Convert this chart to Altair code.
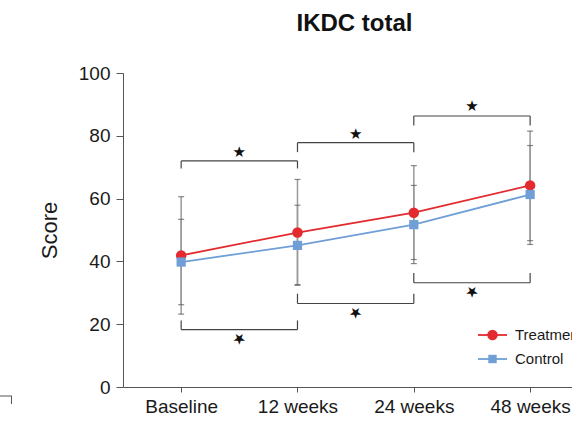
import altair as alt
import pandas as pd

# Time points and group results (mean with error-bar ends)
categories = ["Baseline", "12 weeks", "24 weeks", "48 weeks"]
series_names = ["Treatment", "Control"]

treat_mean = [41.9, 49.2, 55.5, 64.2]
treat_lo = [23.2, 32.4, 40.6, 46.6]
treat_hi = [60.6, 66.1, 70.5, 81.5]

ctrl_mean = [39.8, 45.1, 51.7, 61.3]
ctrl_lo = [26.2, 32.6, 39.3, 45.4]
ctrl_hi = [53.4, 57.9, 64.2, 76.9]

# Significance brackets between neighbouring time points
bracket_start = [0, 1, 2, 0, 1, 2]
bracket_end = [1, 2, 3, 1, 2, 3]
bracket_level = [72.0, 77.8, 86.3, 18.3, 26.6, 33.2]
bracket_tip = [69.6, 74.8, 83.3, 21.2, 29.7, 36.3]
star_level = [74.7, 80.7, 89.4, 15.4, 23.6, 30.3]
star_flip = [0, 0, 0, 180, 180, 180]

y_ticks = [0, 20, 40, 60, 80, 100]

RED = "#e32a2e"
BLUE = "#6f9fd6"
FONT = "Liberation Sans"

rows = []
for name, m, lo, hi in [
    ("Treatment", treat_mean, treat_lo, treat_hi),
    ("Control", ctrl_mean, ctrl_lo, ctrl_hi),
]:
    for i, cat in enumerate(categories):
        rows.append({"idx": i, "period": cat, "series": name,
                     "mean": m[i], "lo": lo[i], "hi": hi[i]})
df = pd.DataFrame(rows)

br = pd.DataFrame({"start": bracket_start, "end": bracket_end,
                   "level": bracket_level, "tip": bracket_tip,
                   "mid": [(a + b) / 2 for a, b in zip(bracket_start, bracket_end)],
                   "star": star_level, "flip": star_flip})

label_expr = "[" + ",".join(f"'{c}'" for c in categories) + "][datum.value]"

x_scale = alt.Scale(domain=[-0.5, 3.36], nice=False, zero=False)
y_scale = alt.Scale(domain=[0, 100], nice=False)
color_scale = alt.Scale(domain=series_names, range=[RED, BLUE])

x_enc = alt.X("idx:Q", scale=x_scale, axis=alt.Axis(
    values=list(range(len(categories))), labelExpr=label_expr, title=None,
    grid=False, tickSize=5, labelPadding=5, labelFontSize=19, labelFont=FONT,
    labelColor="#1a1a1a", domainColor="#555555", tickColor="#555555",
    labelFlush=False))
y_enc = alt.Y("mean:Q", scale=y_scale, axis=alt.Axis(
    values=y_ticks, title="Score", grid=False, tickSize=7, labelPadding=6,
    labelFontSize=19, labelFont=FONT, labelColor="#1a1a1a",
    domainColor="#555555", tickColor="#555555",
    titleFont=FONT, titleFontSize=22, titleFontWeight="normal",
    titleColor="#1a1a1a", titleX=-74, titleY=157, titleAngle=-90,
    titleAlign="center", titleBaseline="middle"))

base = alt.Chart(df)

# error bars
err_line = base.mark_rule(color="#9a9a9a", strokeWidth=1.5).encode(
    x=x_enc, y=alt.Y("lo:Q", scale=y_scale), y2="hi:Q")
cap_lo = base.mark_tick(orient="horizontal", color="#555555", size=6,
                        thickness=1.2).encode(
    x=alt.X("idx:Q", scale=x_scale), y=alt.Y("lo:Q", scale=y_scale))
cap_hi = base.mark_tick(orient="horizontal", color="#555555", size=6,
                        thickness=1.2).encode(
    x=alt.X("idx:Q", scale=x_scale), y=alt.Y("hi:Q", scale=y_scale))

lines = base.mark_line(strokeWidth=1.8).encode(
    x=alt.X("idx:Q", scale=x_scale), y=alt.Y("mean:Q", scale=y_scale),
    color=alt.Color("series:N", scale=color_scale, legend=None),
    detail="series:N")

red_pts = base.transform_filter(alt.datum.series == "Treatment").mark_point(
    shape="circle", filled=True, size=110, opacity=1, color=RED).encode(
    x=alt.X("idx:Q", scale=x_scale), y=alt.Y("mean:Q", scale=y_scale))
blue_pts = base.transform_filter(alt.datum.series == "Control").mark_point(
    shape="square", filled=True, size=85, opacity=1, color=BLUE).encode(
    x=alt.X("idx:Q", scale=x_scale), y=alt.Y("mean:Q", scale=y_scale))

# brackets and stars
bb = alt.Chart(br)
br_h = bb.mark_rule(color="#444444", strokeWidth=1.2).encode(
    x=alt.X("start:Q", scale=x_scale), x2="end:Q",
    y=alt.Y("level:Q", scale=y_scale))
br_l = bb.mark_rule(color="#444444", strokeWidth=1.2).encode(
    x=alt.X("start:Q", scale=x_scale),
    y=alt.Y("level:Q", scale=y_scale), y2="tip:Q")
br_r = bb.mark_rule(color="#444444", strokeWidth=1.2).encode(
    x=alt.X("end:Q", scale=x_scale),
    y=alt.Y("level:Q", scale=y_scale), y2="tip:Q")
stars = bb.mark_text(text="★", fontSize=15, font="DejaVu Sans",
                     color="#111111", baseline="middle", align="center").encode(
    x=alt.X("mid:Q", scale=x_scale), y=alt.Y("star:Q", scale=y_scale),
    angle=alt.Angle("flip:Q", scale=None))

# legend entries
legend_layers = []
for name, col, shape, size, ypos in [("Treatment", RED, "circle", 110, 262),
                                     ("Control", BLUE, "square", 70, 286)]:
    ld = alt.Chart(pd.DataFrame({"series": [name]}))
    legend_layers.append(ld.mark_rule(color=col, strokeWidth=1.8).encode(
        x=alt.value(355), x2=alt.value(384), y=alt.value(ypos)))
    legend_layers.append(ld.mark_point(shape=shape, filled=True, size=size,
                                       opacity=1, color=col).encode(
        x=alt.value(369.5), y=alt.value(ypos)))
    legend_layers.append(ld.mark_text(align="left", baseline="middle",
                                      fontSize=15, font=FONT,
                                      color="#1a1a1a").encode(
        x=alt.value(392), y=alt.value(ypos), text="series:N"))

# small corner mark at the lower left
corner = alt.Chart(pd.DataFrame({"k": [0]}))
corner_h = corner.mark_rule(color="#555555", strokeWidth=1).encode(
    x=alt.value(-123), x2=alt.value(-111), y=alt.value(323))
corner_v = corner.mark_rule(color="#555555", strokeWidth=1).encode(
    x=alt.value(-111.5), y=alt.value(323), y2=alt.value(331))

chart = alt.layer(
    err_line, cap_lo, cap_hi, br_h, br_l, br_r, stars,
    lines, red_pts, blue_pts, *legend_layers, corner_h, corner_v
).encode(x=x_enc, y=y_enc).properties(
    width=449, height=314,
    background="white",
    title=alt.TitleParams("IKDC total", font=FONT, fontSize=24,
                          fontWeight="bold", color="#111111",
                          anchor="middle", offset=28, dx=7),
    autosize=alt.AutoSizeParams(type="none"),
    padding={"left": 123, "top": 73, "right": 0, "bottom": 42},
).configure_view(strokeWidth=0, stroke="transparent")

chart.save("out.html", embed_options={"renderer": "svg", "actions": False})
